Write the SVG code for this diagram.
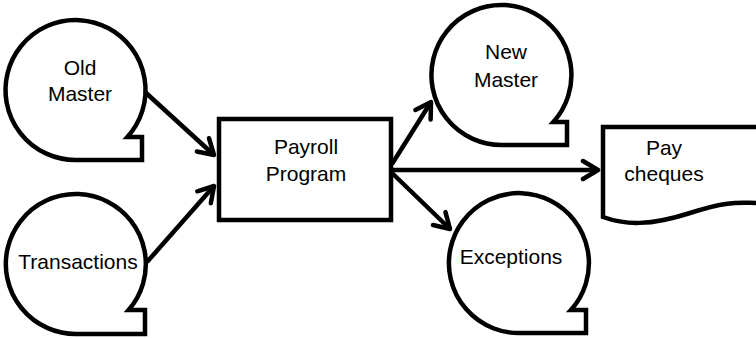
<svg xmlns="http://www.w3.org/2000/svg" width="756" height="338" viewBox="0 0 756 338">
<defs>
<style>
.shape{fill:#fff;stroke:#000;stroke-width:4.5;stroke-linejoin:miter}
.conn{fill:none;stroke:#000;stroke-width:4.5}
.lbl{font-family:"Liberation Sans",Arial,sans-serif;font-size:21px;fill:#000;text-anchor:middle}
</style>
<marker id="arr" markerUnits="userSpaceOnUse" viewBox="-20 -12 24 24" markerWidth="24" markerHeight="24" refX="0" refY="0" orient="auto">
<path d="M -15 -9 L 0 0 L -15 9" fill="none" stroke="#000" stroke-width="4.5" stroke-linecap="round" stroke-linejoin="round"/>
</marker>
</defs>
<rect width="756" height="338" fill="#fff"/>
<g id="old-master">
<path class="shape" d="M 75.5 160 L 142 160 L 142 137 L 127.4 137 A 70 70 0 1 0 75.5 160 Z"/>
<text class="lbl" x="80" y="75">Old</text>
<text class="lbl" x="80" y="101">Master</text>
</g>
<g id="transactions">
<path class="shape" d="M 77 334 L 145 334 L 145 310 L 128.6 310 A 70 70 0 1 0 77 334 Z"/>
<text class="lbl" x="78" y="269">Transactions</text>
</g>
<g id="payroll">
<rect class="shape" x="219" y="119" width="172" height="101"/>
<text class="lbl" x="306" y="154">Payroll</text>
<text class="lbl" x="306" y="181">Program</text>
</g>
<g id="new-master">
<path class="shape" d="M 502 145 L 567 145 L 567 122 L 553.3 122 A 70 70 0 1 0 502 145 Z"/>
<text class="lbl" x="506" y="59">New</text>
<text class="lbl" x="506" y="87">Master</text>
</g>
<g id="exceptions">
<path class="shape" d="M 523 333 L 586 333 L 586 310 L 570.9 310 A 70 70 0 1 0 523 333 Z"/>
<text class="lbl" x="511" y="264">Exceptions</text>
</g>
<g id="pay-cheques">
<path class="shape" d="M 758 127 L 603 127 L 603 217 C 625 225, 650 226, 690 213 S 740 203, 758 203"/>
<text class="lbl" x="664" y="155">Pay</text>
<text class="lbl" x="664" y="181">cheques</text>
</g>
<g id="connectors">
<line class="conn" x1="145" y1="92" x2="214" y2="155" marker-end="url(#arr)"/>
<line class="conn" x1="147" y1="262" x2="214" y2="186" marker-end="url(#arr)"/>
<line class="conn" x1="392" y1="164" x2="431" y2="102" marker-end="url(#arr)"/>
<line class="conn" x1="392" y1="170" x2="598" y2="170" marker-end="url(#arr)"/>
<line class="conn" x1="392" y1="173" x2="450" y2="229" marker-end="url(#arr)"/>
</g>
</svg>
